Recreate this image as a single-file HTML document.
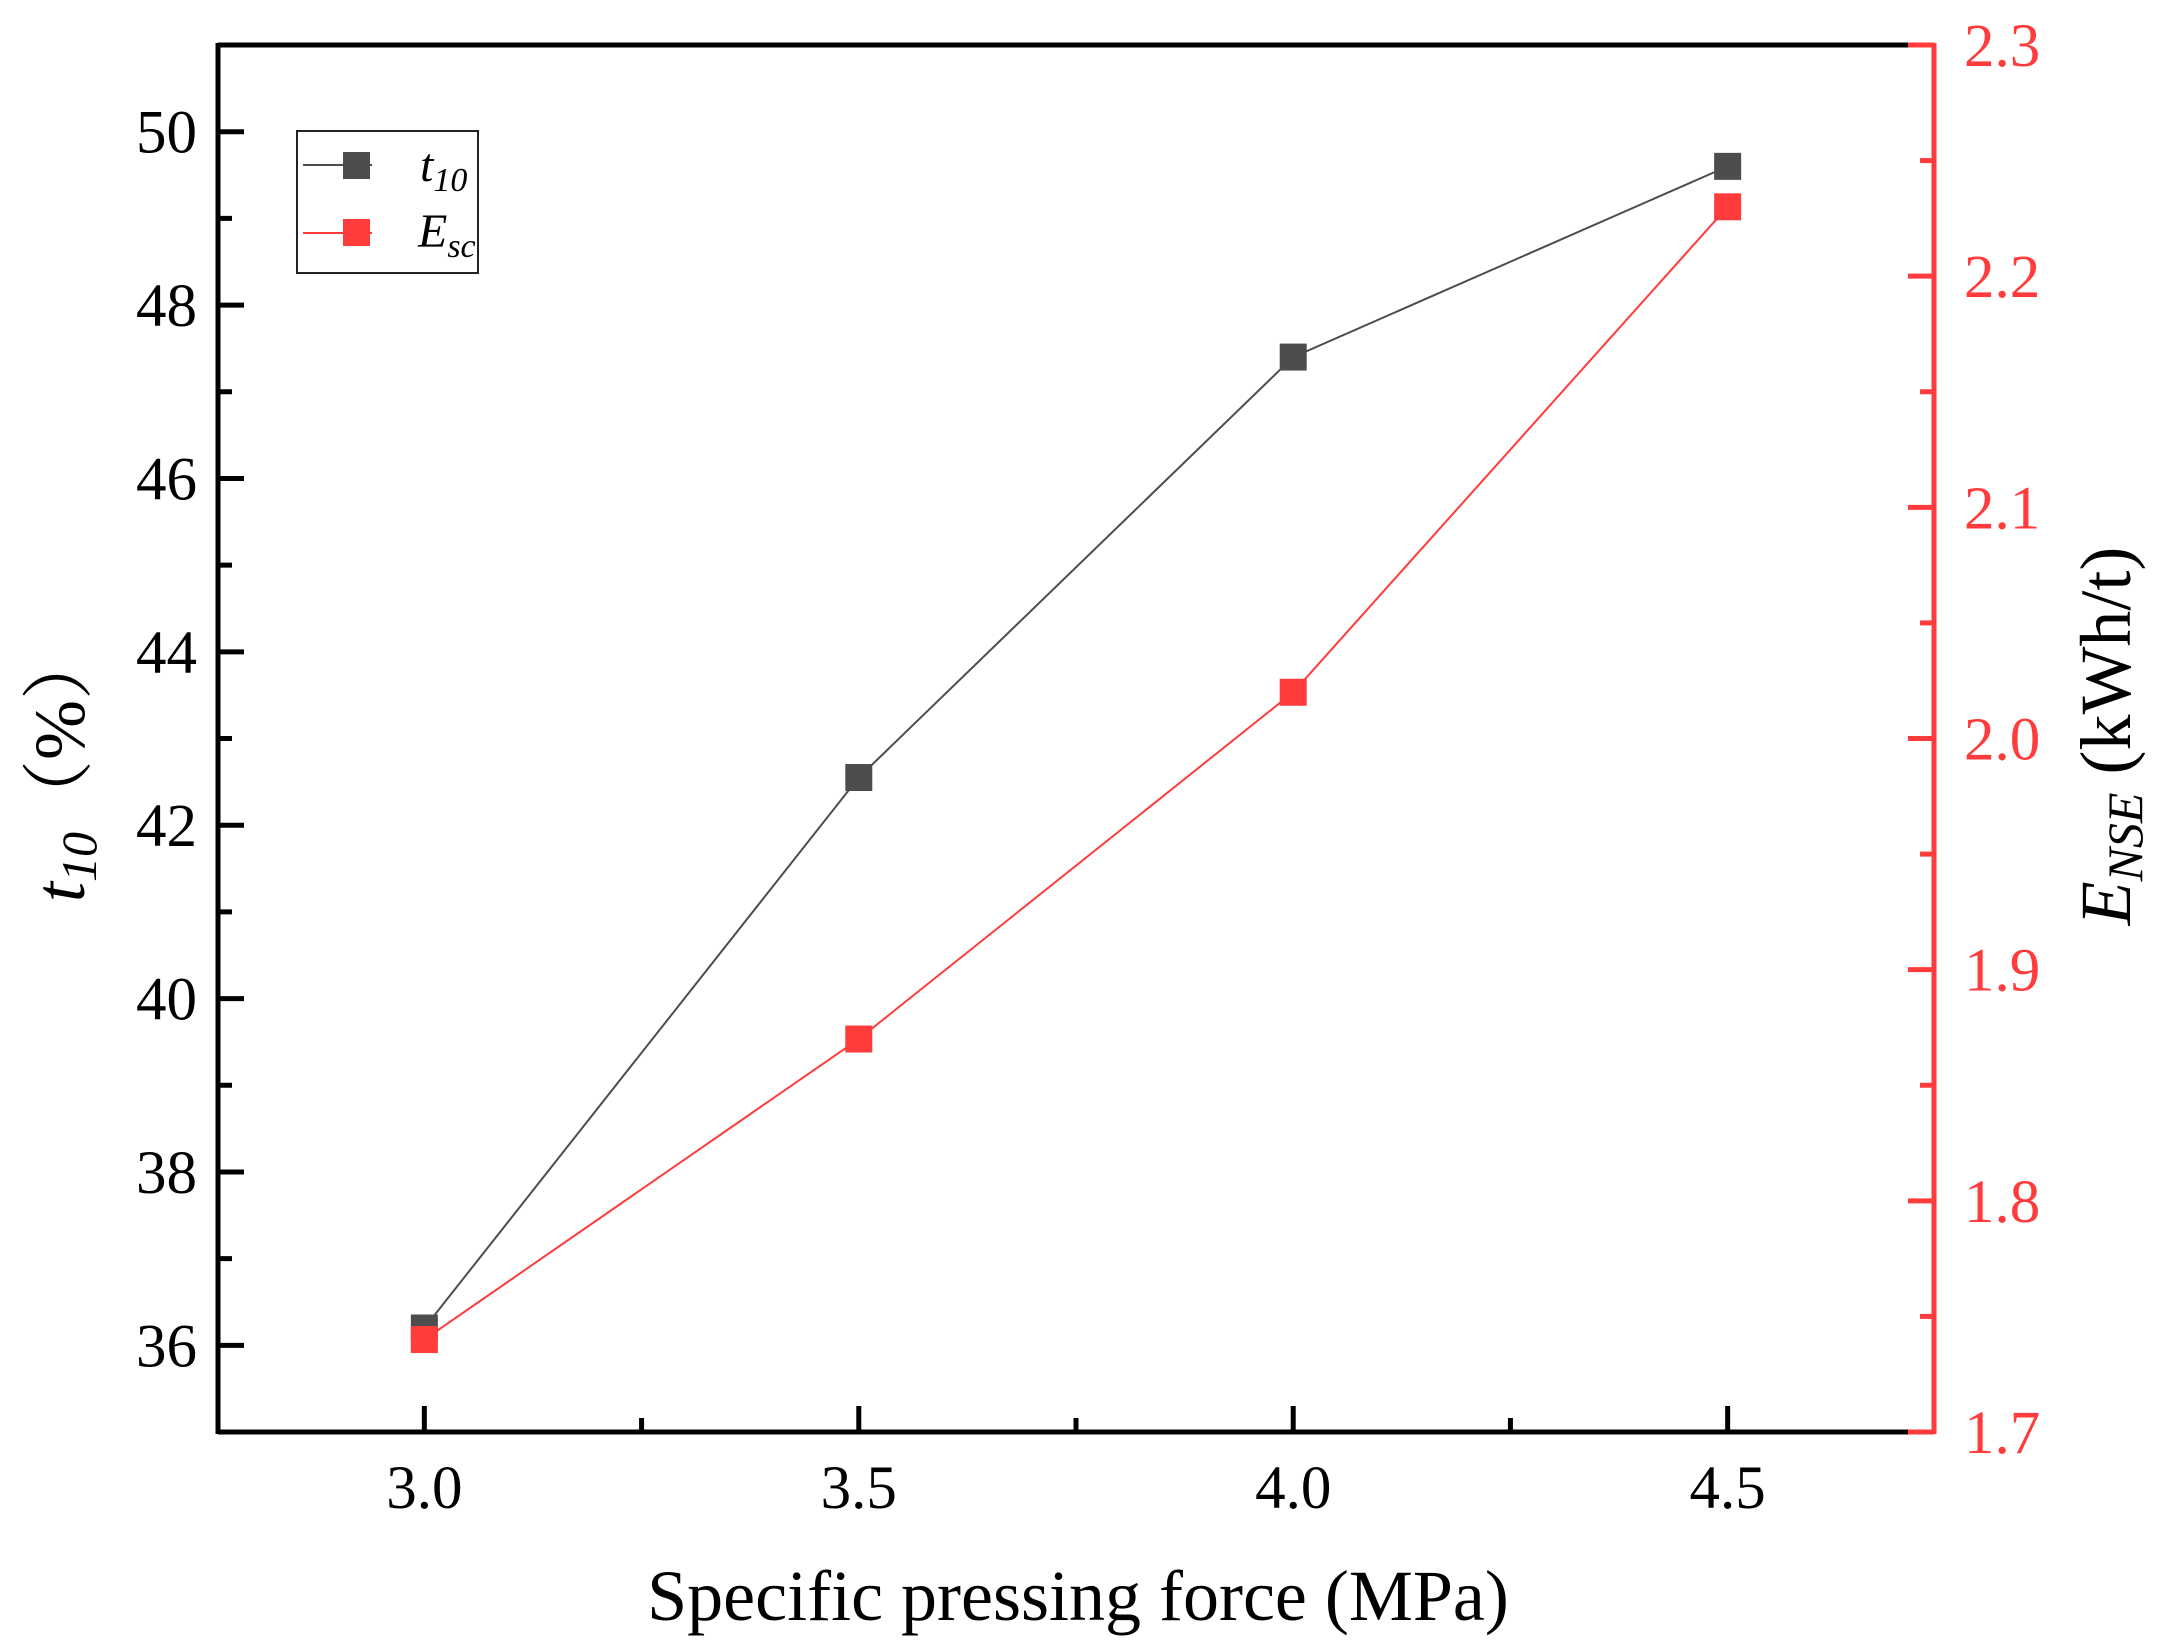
<!DOCTYPE html>
<html><head><meta charset="utf-8"><style>
body{margin:0;background:#fff}
svg{display:block;font-family:"Liberation Serif","Noto Serif CJK SC",serif}
</style></head><body>
<svg id="c" width="2158" height="1650" xmlns="http://www.w3.org/2000/svg"></svg>
<script>
const xCats=[3.0,3.5,4.0,4.5];
const t10Vals=[36.2,42.55,47.4,49.6];
const escVals=[1.74,1.87,2.02,2.23];
const xTicks=["3.0","3.5","4.0","4.5"];
const yLeftTicks=[36,38,40,42,44,46,48,50];
const yRightTicks=["1.7","1.8","1.9","2.0","2.1","2.2","2.3"];

const L=218,R=1934,T=45,B=1432;
const xMin=2.7625,xMax=4.7375,yMin=35,yMax=51,rMin=1.7,rMax=2.3;
const X=v=>L+(v-xMin)/(xMax-xMin)*(R-L);
const Y=v=>B-(v-yMin)/(yMax-yMin)*(B-T);
const YR=v=>B-(v-rMin)/(rMax-rMin)*(B-T);
const RED="#ff3b3b";
const s=document.getElementById('c');
const NS="http://www.w3.org/2000/svg";
function mk(tag,attrs,name,parent){const e=document.createElementNS(NS,tag);for(const k in attrs)e.setAttribute(k,attrs[k]);


(parent||s).appendChild(e);return e;}

mk('line',{x1:L,y1:T,x2:R,y2:T,stroke:'#000','stroke-width':5},'top-border');
mk('line',{x1:L,y1:B,x2:R,y2:B,stroke:'#000','stroke-width':5},'x-axis-line');
mk('line',{x1:L,y1:T-2,x2:L,y2:B+2,stroke:'#000','stroke-width':5},'left-y-axis-line');
mk('line',{x1:R,y1:T-2,x2:R,y2:B+2,stroke:RED,'stroke-width':5},'right-y-axis-line');

xCats.forEach((v,i)=>{
  mk('line',{x1:X(v),y1:B,x2:X(v),y2:B-26,stroke:'#000','stroke-width':5},'x-tick');
  const t=mk('text',{x:X(v),y:1508,'font-size':61,'text-anchor':'middle'},'x-tick-label');t.textContent=xTicks[i];
  if(i<xCats.length-1){const m=v+0.25;mk('line',{x1:X(m),y1:B,x2:X(m),y2:B-14,stroke:'#000','stroke-width':5},'x-minor-tick');}
});
yLeftTicks.forEach(v=>{
  mk('line',{x1:L,y1:Y(v),x2:L+26,y2:Y(v),stroke:'#000','stroke-width':5},'left-y-tick');
  const t=mk('text',{x:197,y:Y(v)+21,'font-size':61,'text-anchor':'end'},'left-y-tick-label');t.textContent=v;
});
[35,37,39,41,43,45,47,49].forEach(v=>mk('line',{x1:L,y1:Y(v),x2:L+14,y2:Y(v),stroke:'#000','stroke-width':5},'left-y-minor-tick'));
yRightTicks.forEach((lab,i)=>{
  const v=parseFloat(lab);
  mk('line',{x1:R,y1:YR(v),x2:R-26,y2:YR(v),stroke:RED,'stroke-width':5},'right-y-tick');
  const t=mk('text',{x:1964,y:YR(v)+21,'font-size':61,fill:RED},'right-y-tick-label');t.textContent=lab;
  if(i<yRightTicks.length-1)mk('line',{x1:R,y1:YR(v+0.05),x2:R-14,y2:YR(v+0.05),stroke:RED,'stroke-width':5},'right-y-minor-tick');
});

mk('polyline',{points:xCats.map((v,i)=>X(v)+','+Y(t10Vals[i])).join(' '),fill:'none',stroke:'#4d4d4d','stroke-width':2},'t10-line');
mk('polyline',{points:xCats.map((v,i)=>X(v)+','+YR(escVals[i])).join(' '),fill:'none',stroke:RED,'stroke-width':2},'esc-line');
xCats.forEach((v,i)=>mk('rect',{x:X(v)-13.5,y:Y(t10Vals[i])-13.5,width:27,height:27,fill:'#4d4d4d'},'t10-point'));
xCats.forEach((v,i)=>mk('rect',{x:X(v)-13.5,y:YR(escVals[i])-13.5,width:27,height:27,fill:RED},'esc-point'));

const lg=mk('g',{},'legend');
mk('rect',{x:297,y:131,width:181,height:142,fill:'#fff',stroke:'#222','stroke-width':2},'legend-box',lg);
mk('line',{x1:303,y1:165,x2:372,y2:165,stroke:'#4d4d4d','stroke-width':2},'legend-t10-line',lg);
mk('rect',{x:343,y:152,width:27,height:27,fill:'#4d4d4d'},'legend-t10-marker',lg);
let t=mk('text',{x:420,y:181,'font-size':48,'font-style':'italic'},'legend-t10-label',lg);
t.innerHTML='t<tspan font-size="34" dy="10">10</tspan>';
mk('line',{x1:303,y1:233,x2:372,y2:233,stroke:RED,'stroke-width':2},'legend-esc-line',lg);
mk('rect',{x:343,y:219,width:27,height:27,fill:RED},'legend-esc-marker',lg);
t=mk('text',{x:418,y:247,'font-size':48,'font-style':'italic'},'legend-esc-label',lg);
t.innerHTML='E<tspan font-size="34" dy="10">sc</tspan>';

t=mk('text',{x:1078,y:1620,'font-size':72,'text-anchor':'middle'},'x-axis-title');t.textContent='Specific pressing force (MPa)';
t=mk('text',{x:0,y:0,'font-size':72,'text-anchor':'middle',transform:'translate(84,765) rotate(-90)'},'left-y-axis-title');
t.innerHTML='<tspan font-style="italic">t</tspan><tspan font-style="italic" font-size="50" dy="12">10</tspan><tspan dy="-12">（%）</tspan>';
t=mk('text',{x:0,y:0,'font-size':72,'text-anchor':'middle',transform:'translate(2130,736) rotate(-90)'},'right-y-axis-title');
t.innerHTML='<tspan font-style="italic">E</tspan><tspan font-style="italic" font-size="50" dy="12">NSE</tspan><tspan dy="-12"> (kWh/t)</tspan>';
</script>
</body></html>
